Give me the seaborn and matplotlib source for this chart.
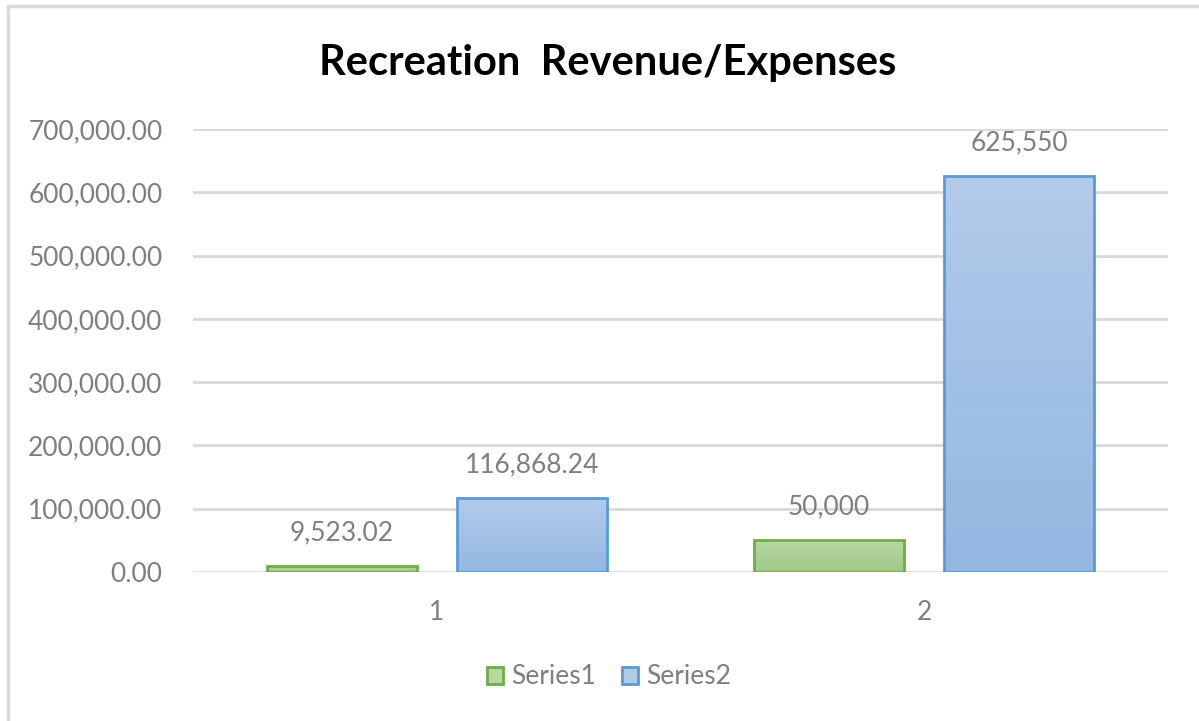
import numpy as np
import pandas as pd
import seaborn as sns
import matplotlib.pyplot as plt
from matplotlib.colors import LinearSegmentedColormap
from matplotlib.lines import Line2D
from matplotlib.patches import Patch

categories = ['1', '2']
series1 = [9523.02, 50000]
series2 = [116868.24, 625550]
labels1 = ['9,523.02', '50,000']
labels2 = ['116,868.24', '625,550']
yticks = [0, 100000, 200000, 300000, 400000, 500000, 600000, 700000]

df = pd.DataFrame({
    'cat': categories * 2,
    'value': series1 + series2,
    'series': ['Series1'] * 2 + ['Series2'] * 2,
})

sns.set_style('white')
plt.rcParams['font.family'] = ['Lato', 'DejaVu Sans']

GRAY = '#7f7f7f'
edges = {'Series1': '#70ad47', 'Series2': '#5b9bd5'}
grads = {'Series1': ('#b7d7a3', '#9fc887'), 'Series2': ('#b2cbe9', '#93b7e2')}

fig = plt.figure(figsize=(11.99, 7.21), dpi=100)
ax = fig.add_axes([0.161, 0.2067, 0.813, 0.6143])

sns.barplot(data=df, x='cat', y='value', hue='series', hue_order=['Series1', 'Series2'],
            width=0.78, gap=0.21, palette=['#a9cf93', '#a3c2e6'], ax=ax, legend=False)

order = ['Series1'] * 2 + ['Series2'] * 2
texts = labels1 + labels2
for patch, s, t in zip(ax.patches, order, texts):
    x, w, h = patch.get_x(), patch.get_width(), patch.get_height()
    patch.set_facecolor('none')
    patch.set_edgecolor(edges[s])
    patch.set_linewidth(2)
    patch.set_zorder(3)
    cmap = LinearSegmentedColormap.from_list('g', [grads[s][1], grads[s][0]])
    im = ax.imshow(np.linspace(0, 1, 64).reshape(-1, 1), cmap=cmap, origin='lower',
                   extent=(x, x + w, 0, h), aspect='auto', zorder=2)
    im.set_clip_path(patch)
    ax.annotate(t, (x + w / 2, h), xytext=(0, 24), textcoords='offset points',
                ha='center', va='center', fontsize=19, color=GRAY)

ax.set_xlim(-0.5, 1.5)
ax.set_ylim(0, 700000)
ax.set_yticks(yticks)
ax.set_yticklabels([f'{v:,.2f}' for v in yticks])
ax.yaxis.grid(True, color='#d9d9d9', linewidth=2)
ax.set_axisbelow(True)
for sp in ax.spines.values():
    sp.set_visible(False)
ax.tick_params(axis='both', length=0, labelsize=19, labelcolor=GRAY)
ax.tick_params(axis='y', pad=22)
ax.tick_params(axis='x', pad=20)
ax.set_xlabel('')
ax.set_ylabel('')

fig.text(0.507, 1 - 63 / 721, 'Recreation  Revenue/Expenses', ha='center', va='center',
         fontsize=30, fontweight='bold', color='black')

handles = [Patch(facecolor=grads[s][0], edgecolor=edges[s], linewidth=2, label=s)
           for s in ['Series1', 'Series2']]
fig.legend(handles=handles, loc='center', bbox_to_anchor=(0.508, 1 - 677 / 721), ncol=2,
           frameon=False, fontsize=19, labelcolor=GRAY, handlelength=0.6,
           handleheight=0.6, handletextpad=0.3, columnspacing=1.0)

fig.add_artist(Line2D([8 / 1199, 8 / 1199], [0, 1 - 6 / 721], color='#d9d9d9', linewidth=2.5))
fig.add_artist(Line2D([8 / 1199, 1], [1 - 6 / 721, 1 - 6 / 721], color='#d9d9d9', linewidth=2.5))

fig.savefig('out.png', dpi=100)
